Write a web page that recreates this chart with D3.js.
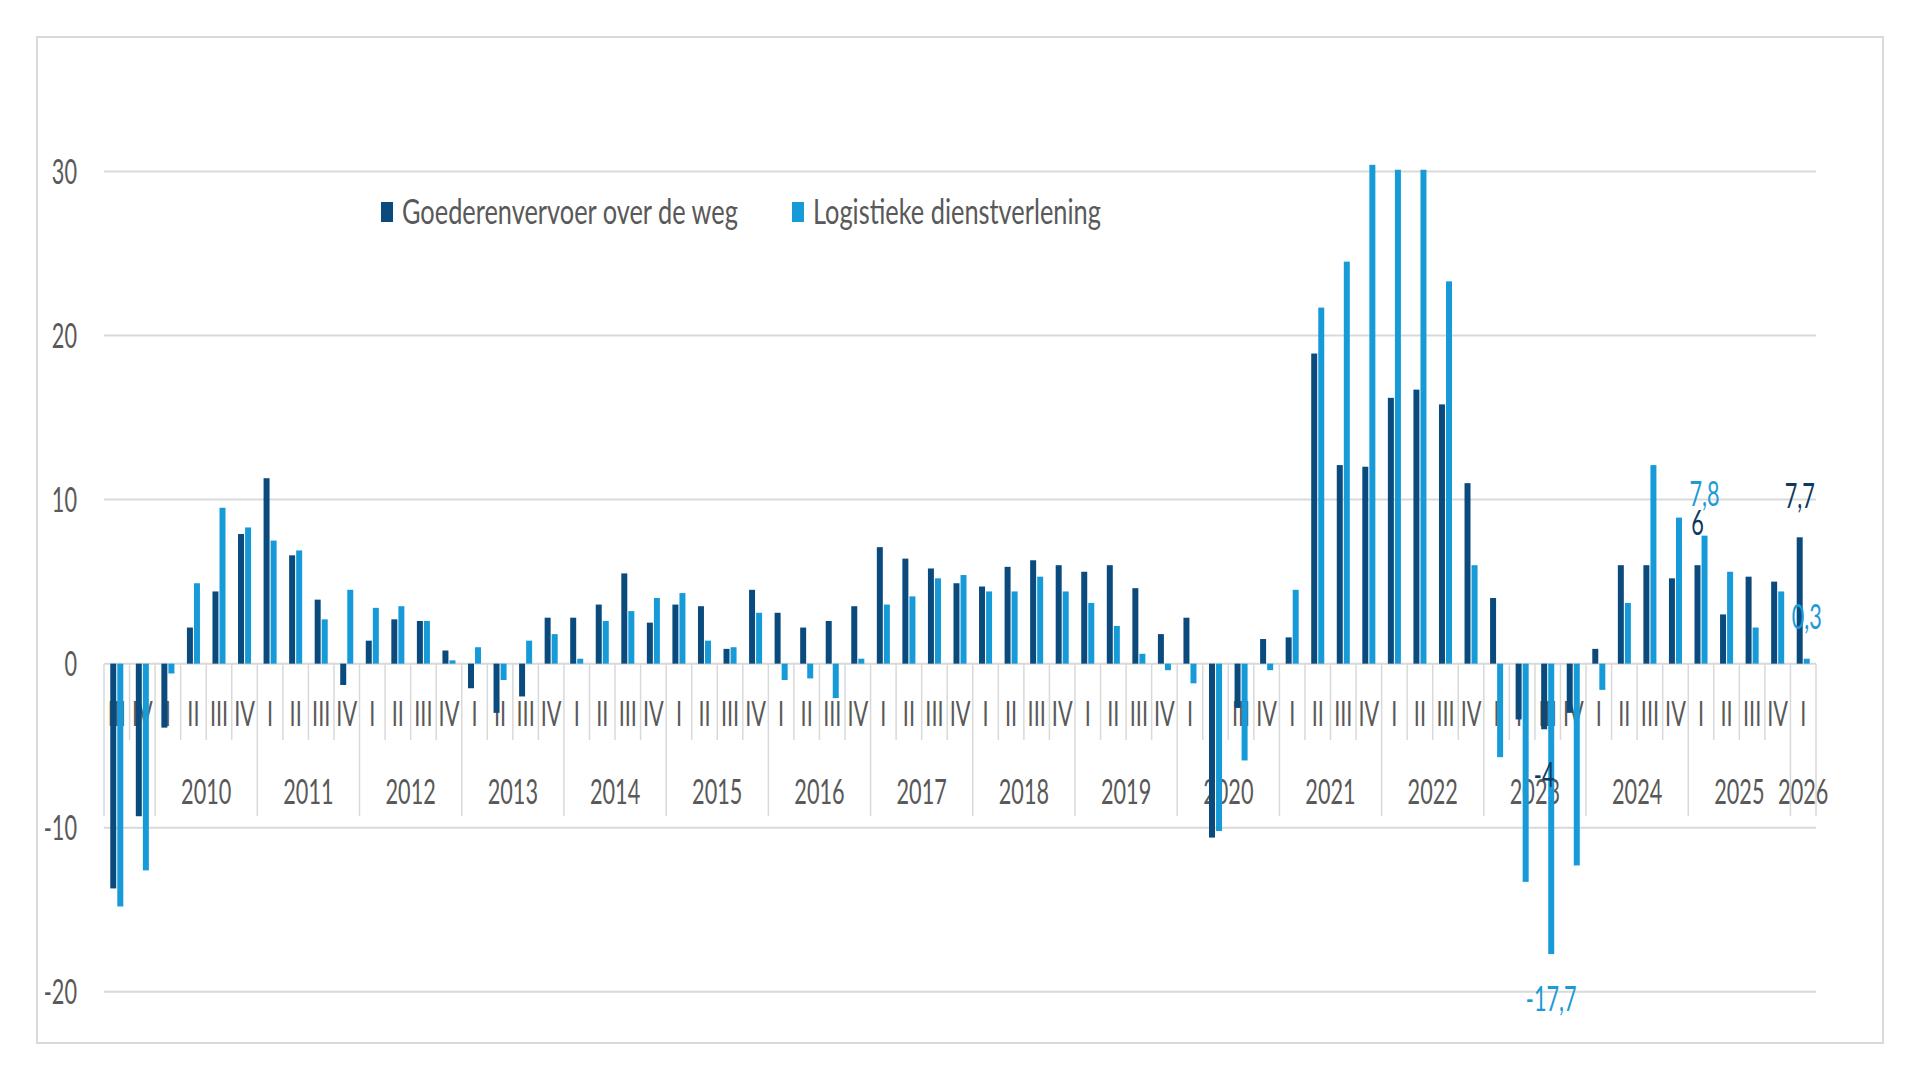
<!DOCTYPE html>
<html>
<head>
<meta charset="utf-8">
<script src="https://cdn.jsdelivr.net/npm/d3@7"></script>
<style>
  html, body { margin: 0; padding: 0; background: #fff; }
  svg { display: block; font-family: Lato, "Open Sans", sans-serif; }
</style>
</head>
<body>
<svg id="chart"></svg>
<script>
// quarters shown on the category axis (year + roman quarter)
const periods = [
  "2009 III", "2009 IV",
  "2010 I", "2010 II", "2010 III", "2010 IV",
  "2011 I", "2011 II", "2011 III", "2011 IV",
  "2012 I", "2012 II", "2012 III", "2012 IV",
  "2013 I", "2013 II", "2013 III", "2013 IV",
  "2014 I", "2014 II", "2014 III", "2014 IV",
  "2015 I", "2015 II", "2015 III", "2015 IV",
  "2016 I", "2016 II", "2016 III", "2016 IV",
  "2017 I", "2017 II", "2017 III", "2017 IV",
  "2018 I", "2018 II", "2018 III", "2018 IV",
  "2019 I", "2019 II", "2019 III", "2019 IV",
  "2020 I", "2020 II", "2020 III", "2020 IV",
  "2021 I", "2021 II", "2021 III", "2021 IV",
  "2022 I", "2022 II", "2022 III", "2022 IV",
  "2023 I", "2023 II", "2023 III", "2023 IV",
  "2024 I", "2024 II", "2024 III", "2024 IV",
  "2025 I", "2025 II", "2025 III", "2025 IV",
  "2026 I"
];

// the first (incomplete) year has no year label in the original
const hiddenYears = ["2009"];

const goederenvervoer = [
  -13.7, -9.3,
  -3.9, 2.2, 4.4, 7.9,
  11.3, 6.6, 3.9, -1.3,
  1.4, 2.7, 2.6, 0.8,
  -1.5, -3.0, -2.0, 2.8,
  2.8, 3.6, 5.5, 2.5,
  3.6, 3.5, 0.9, 4.5,
  3.1, 2.2, 2.6, 3.5,
  7.1, 6.4, 5.8, 4.9,
  4.7, 5.9, 6.3, 6.0,
  5.6, 6.0, 4.6, 1.8,
  2.8, -10.6, -2.7, 1.5,
  1.6, 18.9, 12.1, 12.0,
  16.2, 16.7, 15.8, 11.0,
  4.0, -3.4, -4.0, -3.0,
  0.9, 6.0, 6.0, 5.2,
  6.0, 3.0, 5.3, 5.0,
  7.7
];

const logistiek = [
  -14.8, -12.6,
  -0.6, 4.9, 9.5, 8.3,
  7.5, 6.9, 2.7, 4.5,
  3.4, 3.5, 2.6, 0.2,
  1.0, -1.0, 1.4, 1.8,
  0.3, 2.6, 3.2, 4.0,
  4.3, 1.4, 1.0, 3.1,
  -1.0, -0.9, -2.1, 0.3,
  3.6, 4.1, 5.2, 5.4,
  4.4, 4.4, 5.3, 4.4,
  3.7, 2.3, 0.6, -0.4,
  -1.2, -10.2, -5.9, -0.4,
  4.5, 21.7, 24.5, 30.4,
  30.1, 30.1, 23.3, 6.0,
  -5.7, -13.3, -17.7, -12.3,
  -1.6, 3.7, 12.1, 8.9,
  7.8, 5.6, 2.2, 4.4,
  0.3
];

const seriesNames = ["Goederenvervoer over de weg", "Logistieke dienstverlening"];
const yTicks = [-20, -10, 0, 10, 20, 30];

// bars that carry a value label
const labelledBars = [
  { series: 0, period: "2023 III" },
  { series: 1, period: "2023 III" },
  { series: 0, period: "2025 I" },
  { series: 1, period: "2025 I" },
  { series: 0, period: "2026 I" },
  { series: 1, period: "2026 I" }
];

const width = 1920;
const height = 1080;
const barColors = ["#0b4a7d", "#169bd8"];
const labelColors = ["#0d3a5e", "#1c9ad6"];
const textColor = "#595959";
const gridColor = "#d9d9d9";
const fontSize = 35;
const squeeze = 0.62; // the original picture is horizontally condensed
const legendSqueeze = 0.725;

const series = [goederenvervoer, logistiek];

const svg = d3.select("#chart").attr("width", width).attr("height", height);

// outer frame
svg.append("rect")
  .attr("x", 37).attr("y", 37)
  .attr("width", 1846).attr("height", 1006)
  .attr("fill", "#fff")
  .attr("stroke", gridColor)
  .attr("stroke-width", 2);

const x0 = d3.scaleBand()
  .domain(periods)
  .range([104, 1816])
  .paddingInner(0.49)
  .paddingOuter(0.245);

const x1 = d3.scaleBand()
  .domain([0, 1])
  .range([0, x0.bandwidth()])
  .paddingInner(0.15);

const y = d3.scaleLinear().domain([-20, 30]).range([991.8, 171.4]);

// condensed text helper
const addText = (parent, x, yy, txt, anchor, color, sx = squeeze) =>
  parent.append("text")
    .attr("transform", `translate(${x},${yy}) scale(${sx},1)`)
    .attr("text-anchor", anchor)
    .attr("dy", "0.35em")
    .attr("font-size", fontSize)
    .attr("fill", color)
    .text(txt);

// gridlines + y labels
const grid = svg.append("g");
yTicks.forEach((t) => {
  grid.append("line")
    .attr("x1", 104).attr("x2", 1816)
    .attr("y1", y(t)).attr("y2", y(t))
    .attr("stroke", gridColor)
    .attr("stroke-width", 2);
  addText(grid, 77, y(t), t, "end", textColor);
});

// category axis: quarter separators, quarter labels, year labels
const axis = svg.append("g");
const step = x0.step();
const left = x0.range()[0];
const yearOf = (p) => p.split(" ")[0];
const quarterOf = (p) => p.split(" ")[1];

for (let i = 0; i <= periods.length; i++) {
  const isYearEdge =
    i === 0 || i === periods.length || yearOf(periods[i]) !== yearOf(periods[i - 1]);
  axis.append("line")
    .attr("x1", left + i * step).attr("x2", left + i * step)
    .attr("y1", y(0))
    .attr("y2", isYearEdge ? 816 : 740)
    .attr("stroke", gridColor)
    .attr("stroke-width", 1.5);
}

periods.forEach((p) => {
  addText(axis, x0(p) + x0.bandwidth() / 2, 714, quarterOf(p), "middle", textColor);
});

const years = Array.from(d3.group(periods, yearOf), ([year, ps]) => ({ year, ps }));
years.forEach(({ year, ps }) => {
  if (hiddenYears.includes(year)) return;
  const start = periods.indexOf(ps[0]);
  const cx = left + (start + ps.length / 2) * step;
  addText(axis, cx, 792, year, "middle", textColor);
});

// bars
series.forEach((values, s) => {
  svg.append("g")
    .selectAll("rect")
    .data(values)
    .enter()
    .append("rect")
    .attr("x", (d, i) => x0(periods[i]) + x1(s))
    .attr("y", (d) => y(Math.max(0, d)))
    .attr("width", x1.bandwidth())
    .attr("height", (d) => Math.abs(y(d) - y(0)))
    .attr("fill", barColors[s]);
});

// value labels
const labels = svg.append("g");
labelledBars.forEach(({ series: s, period }) => {
  const v = series[s][periods.indexOf(period)];
  const cx = x0(period) + x1(s) + x1.bandwidth() / 2;
  const cy = v >= 0 ? y(v) - 42 : y(v) + 45;
  addText(labels, cx, cy, String(v).replace(".", ","), "middle", labelColors[s]);
});

// legend
const legend = svg.append("g");
[381, 792].forEach((lx, s) => {
  legend.append("rect")
    .attr("x", lx).attr("y", 202)
    .attr("width", 12).attr("height", 20)
    .attr("fill", barColors[s]);
  addText(legend, lx + 21, 212, seriesNames[s], "start", textColor, legendSqueeze);
});
</script>
</body>
</html>
